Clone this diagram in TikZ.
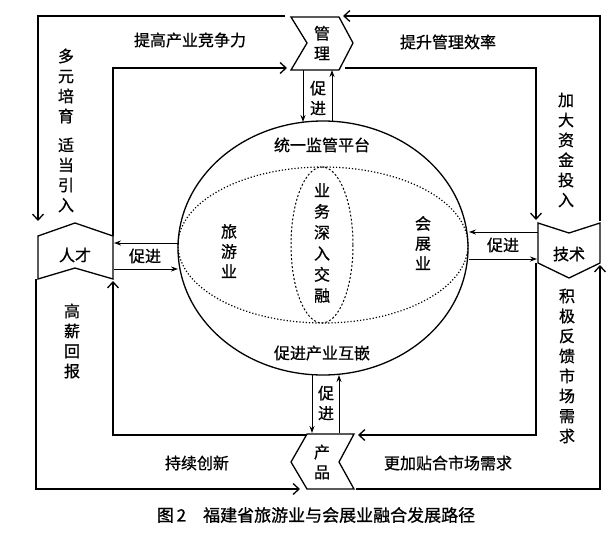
\documentclass[tikz,border=0pt]{standalone}
\usepackage{fontspec}
\setmainfont{Noto Sans CJK SC}[FakeBold=0.8]
\usetikzlibrary{arrows.meta}
\begin{document}
\begin{tikzpicture}[x=1pt,y=-1pt,line width=1.3pt,
	lab/.style={font=\fontsize{16}{19}\selectfont},
	vlab/.style={align=center,font=\fontsize{16}{20}\selectfont},
	big/.style={-{Straight Barb[length=6pt,width=11pt]}},
	small/.style={-{Stealth[length=7pt,width=5pt]},line width=1pt}]
	\useasboundingbox (0,0) rectangle (616,536);
	% circle and inner ellipses
	\draw (323,248) ellipse (145 and 127);
	\draw[dotted,line width=1.2pt] (323,245) ellipse (145 and 78);
	\draw[line width=1pt,dash pattern=on 2pt off 2pt] (322,245) ellipse (31 and 78);
		\node[lab] (tp) at (322,145){统一监管平台};
		\node[lab] (hq) at (322,353){促进产业互嵌};
		\node[vlab] (ly) at (229,251){旅\\游\\业};
		\node[vlab] (hz) at (423,243){会\\展\\业};
		\node[vlab,font=\fontsize{16}{21}\selectfont] (jr) at (322,243){业\\务\\深\\入\\交\\融};

	% four chevrons
	\draw (291,17) -- (339,17) -- (353,43) -- (339,70) -- (291,70) -- (307,43) -- cycle;
		\node[vlab] (gl) at (322,43){管\\理};
	\draw (38,236) -- (75,223) -- (113,236) -- (113,279) -- (75,268) -- (38,279) -- cycle;
		\node[lab] (rc) at (75,255){人才};
	\draw (538,223) -- (569,233) -- (600,223) -- (600,263) -- (569,278) -- (538,263) -- cycle;
		\node[lab] (js) at (569,254){技术};
	\draw (307,434) -- (354,434) -- (339,462) -- (354,489) -- (307,489) -- (291,462) -- cycle;
		\node[vlab] (cp) at (322,462){产\\品};

	% outer loops
	\draw[big] (285,16) -- (38,16) -- (38,221);
	\draw[big] (600,221) -- (600,16) -- (343,16);
	\draw[big] (113,236) -- (113,68) -- (287,68);
	\draw[big] (345,68) -- (536,68) -- (536,220);
	\draw[big] (307,435) -- (113,435) -- (113,281);
	\draw[big] (536,263) -- (536,435) -- (358,435);
	\draw[big] (36,279) -- (36,489) -- (300,489);
	\draw[big] (356,489) -- (600,489) -- (600,265);

	% promote arrows
	\draw[small] (303,70) -- (303,122);
	\draw[small] (332,122) -- (332,70);
		\node[vlab] at (318,98){促\\进};
	\draw[small] (179,243) -- (114,243);
	\draw[small] (114,269) -- (178,269);
		\node[lab] at (145,256){促进};
	\draw[small] (538,232) -- (469,232);
	\draw[small] (469,259) -- (537,259);
		\node[lab] at (503,245){促进};
	\draw[small] (312,375) -- (312,433);
	\draw[small] (339,433) -- (339,375);
		\node[vlab] at (326,403){促\\进};

	% path labels
	\node[lab] at (190,40){提高产业竞争力};
	\node[lab] at (448,42){提升管理效率};
	\node[vlab] at (66,86){多\\元\\培\\育};
	\node[vlab] at (66,175){适\\当\\引\\入};
	\node[vlab] at (566,150){加\\大\\资\\金\\投\\入};
	\node[vlab] at (72,341){高\\薪\\回\\报};
	\node[vlab] at (567,366){积\\极\\反\\馈\\市\\场\\需\\求};
	\node[lab] at (197,463){持续创新};
	\node[lab] at (448,463){更加贴合市场需求};
	\node[lab,font=\fontsize{17}{20}\selectfont] at (316,515){图\,2\quad 福建省旅游业与会展业融合发展路径};
\end{tikzpicture}
\end{document}
